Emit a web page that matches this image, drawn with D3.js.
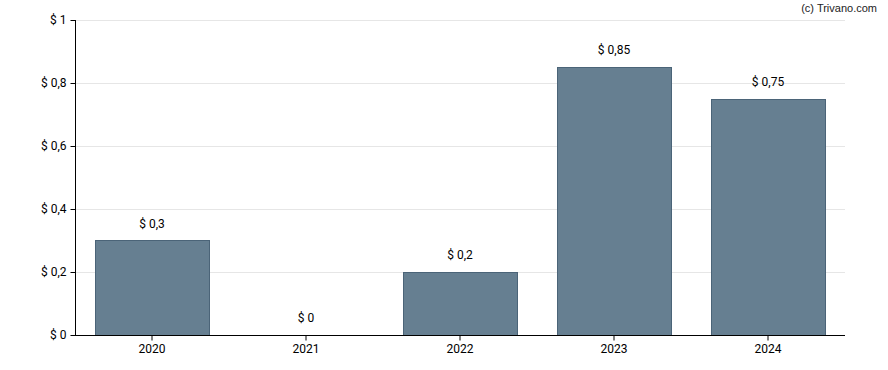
<!DOCTYPE html>
<html><head><meta charset="utf-8">
<script src="https://cdn.jsdelivr.net/npm/d3@7"></script>
<style>body{margin:0;background:#fff}svg{font-family:Roboto,sans-serif}</style>
</head><body><svg id="c" width="888" height="370"></svg>
<script>
const categories = ["2020","2021","2022","2023","2024"];
const values = [0.3, 0, 0.2, 0.85, 0.75];
const valueLabels = ["$ 0,3","$ 0","$ 0,2","$ 0,85","$ 0,75"];
const yTicks = [0, 0.2, 0.4, 0.6, 0.8, 1];
const yTickLabels = ["$ 0","$ 0,2","$ 0,4","$ 0,6","$ 0,8","$ 1"];

const svg = d3.select("#c");
const m = {l:75, r:845, t:20, b:335};
const x = d3.scaleBand().domain(categories).range([m.l, m.r]).paddingInner(0.26).paddingOuter(0.13);
const y = d3.scaleLinear().domain([0,1]).range([m.b, m.t]);

svg.append("g").selectAll("line").data(yTicks.slice(1)).join("line")
  .attr("x1", m.l).attr("x2", m.r).attr("y1", d=>y(d)+0.5).attr("y2", d=>y(d)+0.5)
  .attr("stroke","#e6e6e6").attr("stroke-width",1);

svg.append("g").selectAll("rect").data(values).join("rect")
  .attr("x",(d,i)=>Math.round(x(categories[i]))+0.5)
  .attr("y",d=>Math.round(y(d))+0.5)
  .attr("width",Math.round(x.bandwidth()))
  .attr("height",d=>Math.round(y(0))-Math.round(y(d)))
  .attr("fill","#667f91").attr("stroke","#4b6478").attr("stroke-width",1)
  .style("display",d=>d>0?null:"none");

svg.append("g").selectAll("text").data(values).join("text")
  .attr("x",(d,i)=>x(categories[i])+x.bandwidth()/2)
  .attr("y",d=>y(d)-13)
  .attr("text-anchor","middle").attr("font-size",12).attr("fill","#000")
  .text((d,i)=>valueLabels[i]);

const ya = svg.append("g").attr("transform",`translate(${m.l+0.5},0)`)
  .call(d3.axisLeft(y).tickValues(yTicks).tickFormat((d,i)=>yTickLabels[i]).tickSize(5).tickPadding(4));
ya.select(".domain").attr("d",`M0,${m.t}V${m.b}`).attr("stroke","#000");
ya.selectAll("text").attr("font-size",12).attr("font-family","Roboto,sans-serif").attr("fill","#000");

const xa = svg.append("g").attr("transform",`translate(0,${m.b+0.5})`)
  .call(d3.axisBottom(x).tickSize(5).tickPadding(4));
xa.select(".domain").attr("d",`M${m.l},0H${m.r}`).attr("stroke","#000");
xa.selectAll("text").attr("font-size",12).attr("font-family","Roboto,sans-serif").attr("fill","#000");

svg.append("text").attr("x",877).attr("y",12).attr("text-anchor","end")
  .attr("font-size",11).attr("font-family","Arial,'Liberation Sans',sans-serif").attr("fill","#222").text("(c) Trivano.com");
</script></body></html>
